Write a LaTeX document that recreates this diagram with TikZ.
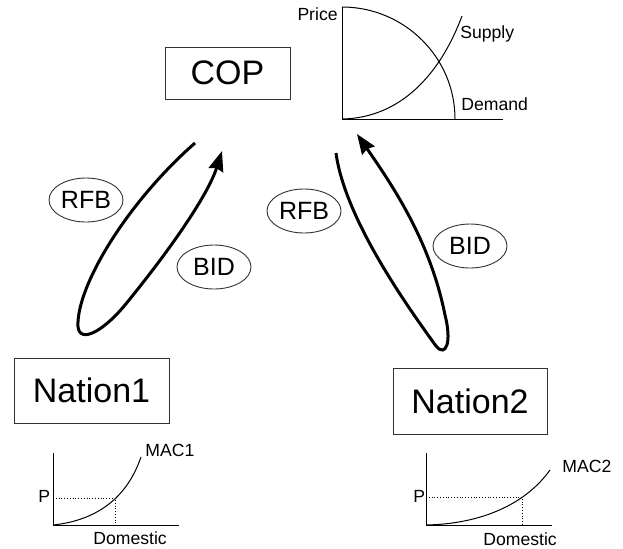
\documentclass[tikz,border=0pt]{standalone}
\usepackage{fontspec}
\setmainfont{Liberation Sans}
\usetikzlibrary{arrows.meta,shapes.geometric}

\begin{document}
\begin{tikzpicture}[x=0.5pt, y=-0.5pt,
  box/.style={draw=black!80, line width=0.5pt, inner sep=0pt, font=\fontsize{17}{20}\selectfont},
  tag/.style={draw=black!80, ellipse, line width=0.45pt, inner sep=0pt, minimum width=37pt, minimum height=22pt, font=\fontsize{12.5}{15}\selectfont},
  small/.style={inner sep=0pt, font=\fontsize{8.8}{10}\selectfont},
  loopline/.style={line width=1.5pt},
  guide/.style={densely dotted, line width=0.4pt}]

\useasboundingbox (0,0) rectangle (623,548);

% market diagram
\def\xo{342}; \def\yo{119};
\draw[line width=0.5pt] (\xo, 7) -- (\xo, \yo) -- (503, \yo);
\draw[line width=0.5pt] (\xo, 7) .. controls (404, 7) and (455, 57) .. (455, \yo); % demand
\draw[line width=0.5pt] (\xo, \yo) .. controls (400, 118) and (440, 75) .. (462, 16); % supply
\node[small, anchor=base east] (price) at (338, 20) {Price};
\node[small, anchor=base west] (supply) at (460, 38) {Supply};
\node[small, anchor=base west] (demand) at (461, 110) {Demand};

% actors
\node[box, minimum width=62.5pt, minimum height=26pt] (cop) at (227.5, 73) {COP};
\node[box, minimum width=77.5pt, minimum height=32.5pt] (nation1) at (91.5, 390.5) {Nation1};
\node[box, minimum width=77pt, minimum height=33pt] (nation2) at (470, 401) {Nation2};

\node[tag] (rfb1) at (86, 200) {RFB};
\node[tag] (bid1) at (214, 267) {BID};
\node[tag] (rfb2) at (304, 211) {RFB};
\node[tag] (bid2) at (470, 246) {BID};

% loops
\coordinate (l1s) at (195, 143);
\coordinate (l1e) at (222, 151);
\coordinate (l2s) at (336, 153);
\coordinate (l2e) at (357, 134);
\draw[loopline, -{Stealth[length=10pt, width=7.5pt, inset=1pt]}] (l1s)
  .. controls (130, 200) and (80, 280) .. (78, 322)
  .. controls (76, 345) and (100, 335) .. (125, 305)
  .. controls (170, 250) and (208, 195) .. (l1e);
\draw[loopline, -{Stealth[length=10pt, width=7.5pt, inset=1pt]}] (l2s)
  .. controls (345, 220) and (410, 310) .. (436, 346)
  .. controls (446, 358) and (452, 342) .. (445, 315)
  .. controls (430, 240) and (392, 185) .. (l2e);

% MAC graphs
\draw[line width=0.5pt] (53, 453) -- (53, 525) -- (179, 525);
\draw[line width=0.5pt] (53, 525) .. controls (100, 520) and (128, 495) .. coordinate[pos=0.57] (q1) (141, 457);
\draw[guide] (q1 -| 53, 0) -- (q1) -- (q1 |- 0, 525);
\node[small, anchor=base west] (mac1) at (145, 456) {MAC1};
\node[small, anchor=base west] (p1) at (38, 502) {P};
\node[small, anchor=base west] (dom1) at (93, 544) {Domestic};

\draw[line width=0.5pt] (426, 453) -- (426, 525) -- (552, 525);
\draw[line width=0.5pt] (426, 525) .. controls (480, 524) and (525, 505) .. coordinate[pos=0.7] (q2) (550, 470);
\draw[guide] (q2 -| 426, 0) -- (q2) -- (q2 |- 0, 525);
\node[small, anchor=base west] (mac2) at (562, 472) {MAC2};
\node[small, anchor=base west] (p2) at (413, 502) {P};
\node[small, anchor=base west] (dom2) at (483, 545) {Domestic};

\end{tikzpicture}
\end{document}
